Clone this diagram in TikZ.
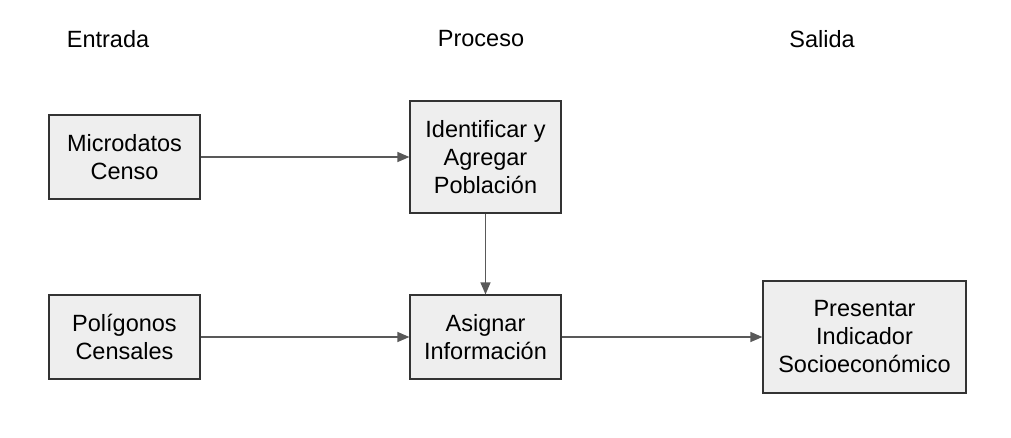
\documentclass[tikz,border=0pt]{standalone}
\usepackage{fontspec}
\setmainfont{Liberation Sans}
\usetikzlibrary{arrows.meta}
\definecolor{boxfill}{HTML}{EEEEEE}
\definecolor{boxline}{HTML}{333333}
\definecolor{arrowcol}{HTML}{595959}
\begin{document}
\begin{tikzpicture}[x=1pt,y=-1pt,
  procbox/.style={draw=boxline,fill=boxfill,line width=1.2pt,align=center,inner sep=0pt,
    font=\fontsize{23.5}{28}\selectfont},
  header/.style={font=\fontsize{23.5}{28}\selectfont,inner sep=0pt},
  conn/.style={draw=arrowcol,line width=1.3pt,-{Triangle[length=12pt,width=10pt]}}]
\useasboundingbox (0,0) rectangle (1011,437);
\node[header] (hin) at (108,39) {Entrada};
\node[header] (hpr) at (481,39) {Proceso};
\node[header] (hout) at (822,39) {Salida};
\node[procbox,minimum width=151pt,minimum height=84pt] (micro) at (124.5,157) {Microdatos\\Censo};
\node[procbox,minimum width=151pt,minimum height=84pt] (poli) at (124.5,337) {Polígonos\\Censales};
\node[procbox,minimum width=151pt,minimum height=112pt] (ident) at (485.5,157) {Identificar y\\Agregar\\Población};
\node[procbox,minimum width=151pt,minimum height=84pt] (asig) at (485.5,337) {Asignar\\Información};
\node[procbox,minimum width=203pt,minimum height=112pt] (pres) at (864.5,337) {Presentar\\Indicador\\Socioeconómico};
\draw[conn] (micro.east) -- (ident.west);
\draw[conn] (ident.south) -- (asig.north);
\draw[conn] (poli.east) -- (asig.west);
\draw[conn] (asig.east) -- (pres.west);
\end{tikzpicture}
\end{document}
